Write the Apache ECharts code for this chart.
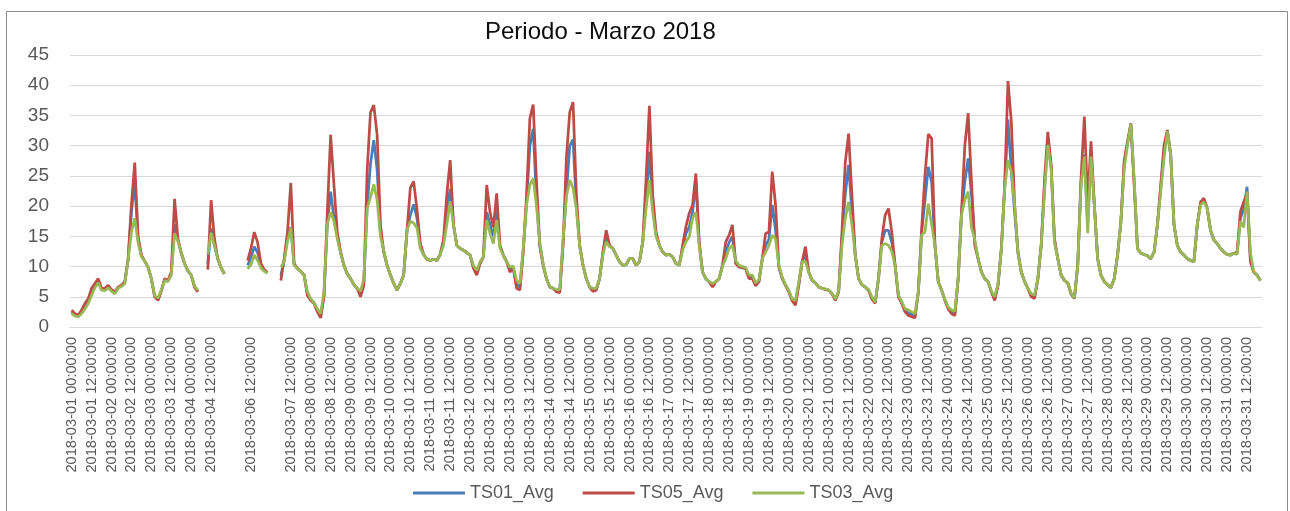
<!DOCTYPE html>
<html>
<head>
<meta charset="utf-8">
<script src="https://cdn.jsdelivr.net/npm/echarts@6/dist/echarts.min.js"></script>
<style>
html,body{margin:0;padding:0;background:#fff;}
#chart{width:1290px;height:511px;}
</style>
</head>
<body>
<div id="chart"></div>
<script>
// Tick labels: one every 12 category slots of 2 hours ('' = blank label in the source)
const tickLabels = [
  '2018-03-01 00:00:00','2018-03-01 12:00:00','2018-03-02 00:00:00','2018-03-02 12:00:00',
  '2018-03-03 00:00:00','2018-03-03 12:00:00','2018-03-04 00:00:00','2018-03-04 12:00:00',
  '','2018-03-06 12:00:00','','2018-03-07 12:00:00',
  '2018-03-08 00:00:00','2018-03-08 12:00:00','2018-03-09 00:00:00','2018-03-09 12:00:00',
  '2018-03-10 00:00:00','2018-03-10 12:00:00','2018-03-11 00:00:00','2018-03-11 12:00:00',
  '2018-03-12 00:00:00','2018-03-12 12:00:00','2018-03-13 00:00:00','2018-03-13 12:00:00',
  '2018-03-14 00:00:00','2018-03-14 12:00:00','2018-03-15 00:00:00','2018-03-15 12:00:00',
  '2018-03-16 00:00:00','2018-03-16 12:00:00','2018-03-17 00:00:00','2018-03-17 12:00:00',
  '2018-03-18 00:00:00','2018-03-18 12:00:00','2018-03-19 00:00:00','2018-03-19 12:00:00',
  '2018-03-20 00:00:00','2018-03-20 12:00:00','2018-03-21 00:00:00','2018-03-21 12:00:00',
  '2018-03-22 00:00:00','2018-03-22 12:00:00','2018-03-23 00:00:00','2018-03-23 12:00:00',
  '2018-03-24 00:00:00','2018-03-24 12:00:00','2018-03-25 00:00:00','2018-03-25 12:00:00',
  '2018-03-26 00:00:00','2018-03-26 12:00:00','2018-03-27 00:00:00','2018-03-27 12:00:00',
  '2018-03-28 00:00:00','2018-03-28 12:00:00','2018-03-29 00:00:00','2018-03-29 12:00:00',
  '2018-03-30 00:00:00','2018-03-30 12:00:00','2018-03-31 00:00:00','2018-03-31 12:00:00'
];
const slotSize = 6; // categories (2-hour steps) per labelled slot

const seriesNames = ['TS01_Avg','TS05_Avg','TS03_Avg'];

const TS01 = [
2.5,2.0,1.8,2.5,3.4,4.3,5.8,6.9,7.7,6.2,6.2,6.7,
6.0,5.6,6.5,6.8,7.3,11.1,19.0,24.1,14.5,11.8,10.9,9.9,
8.0,5.1,4.6,6.0,7.8,7.6,8.8,17.0,14.3,12.3,10.5,9.3,
8.6,6.7,6.0,null,null,10.5,16.3,13.5,11.3,9.8,8.8,null,
null,null,null,null,null,10.2,11.5,13.3,12.3,10.2,9.3,9.0,
null,null,null,8.5,11.0,15.0,16.5,10.3,9.7,9.2,8.6,5.5,
4.5,4.0,2.8,1.9,5.3,17.0,22.4,18.0,15.0,12.3,10.2,8.8,
8.0,7.0,6.4,5.5,7.5,20.0,27.0,30.9,26.0,15.5,12.5,10.2,
8.6,7.2,6.1,7.2,8.6,16.0,18.5,20.3,18.0,13.5,12.0,11.2,
11.0,11.2,11.0,12.0,14.0,19.0,22.9,16.9,13.5,13.0,12.7,12.3,
11.9,10.0,9.0,10.6,11.6,19.0,17.0,15.0,19.0,13.3,11.9,10.8,
9.5,9.9,7.0,6.6,12.7,20.4,30.0,32.8,21.0,13.5,10.3,8.0,
6.6,6.4,6.0,6.0,14.0,22.0,30.0,31.0,20.0,13.5,10.2,8.0,
6.6,6.1,6.2,8.0,12.2,15.0,13.4,13.0,11.9,10.8,10.2,10.3,
11.3,11.3,10.2,10.8,14.1,21.0,29.0,20.0,15.3,13.5,12.4,11.9,
12.0,11.6,10.5,10.2,13.0,15.5,16.5,19.0,24.0,13.8,9.1,8.0,
7.5,6.9,7.5,8.0,10.1,12.5,14.0,15.0,10.7,10.0,9.9,9.7,
8.3,8.3,7.0,7.6,11.3,13.5,14.5,20.2,16.0,10.0,8.1,6.9,
5.9,4.5,4.0,7.2,10.8,12.0,9.1,7.7,7.3,6.6,6.4,6.2,
6.1,5.5,4.5,5.9,14.5,22.0,26.8,19.0,11.9,8.0,7.0,6.6,
6.1,4.8,4.0,8.0,14.0,16.0,16.0,14.0,10.2,5.1,4.0,2.7,
2.3,2.1,1.9,5.8,15.7,21.0,26.5,24.0,13.5,7.5,6.1,4.5,
3.1,2.5,2.2,8.0,18.8,24.0,27.9,22.0,14.0,11.3,9.1,8.0,
7.5,5.8,4.7,7.0,12.9,23.0,34.3,25.7,19.0,12.3,9.1,7.5,
6.4,5.2,5.0,8.0,13.5,23.0,31.0,26.5,14.3,11.3,8.6,7.7,
7.3,5.5,4.7,10.2,24.0,28.5,17.0,29.0,20.2,11.3,8.6,7.5,
7.0,6.5,8.0,11.9,17.4,27.0,30.4,33.6,24.0,13.0,12.2,12.0,
11.8,11.3,12.4,16.9,23.0,29.0,32.5,28.5,16.9,13.5,12.4,11.9,
11.3,11.0,10.8,16.9,20.5,21.0,19.6,16.0,14.4,13.8,13.0,12.4,
12.0,11.9,12.2,12.2,18.0,19.5,23.2,11.5,9.1,8.6,7.7
];

const TS05 = [
2.8,2.2,2.0,2.8,3.9,4.7,6.4,7.2,8.0,6.4,6.4,6.9,
6.2,5.8,6.6,6.9,7.5,11.3,20.2,27.2,15.0,11.9,10.9,9.9,
8.0,5.0,4.4,5.9,8.0,7.7,9.1,21.2,14.6,12.2,10.5,9.3,
8.6,6.6,5.8,null,null,9.5,21.0,14.6,11.3,9.8,8.8,null,
null,null,null,null,null,11.0,13.0,15.7,14.0,10.5,9.5,9.0,
null,null,null,7.7,11.3,15.7,23.8,10.5,9.7,9.2,8.6,5.2,
4.4,3.9,2.5,1.5,5.0,19.0,31.8,23.5,15.7,12.4,10.2,8.8,
8.0,7.0,6.4,5.0,6.9,26.0,35.5,36.7,31.8,16.9,12.4,10.2,
8.6,7.2,6.1,7.2,8.6,16.0,23.0,24.1,19.5,13.8,12.0,11.2,
11.0,11.2,11.0,12.0,14.5,22.0,27.6,16.9,13.5,13.0,12.7,12.3,
11.9,9.7,8.6,10.5,11.6,23.5,19.0,16.5,22.1,13.5,11.9,10.8,
9.1,9.7,6.4,6.1,12.4,21.8,34.5,36.8,24.0,13.5,10.2,8.0,
6.6,6.4,5.8,5.7,13.5,28.0,35.5,37.2,22.0,13.5,10.2,8.0,
6.6,5.9,6.1,8.0,12.4,16.0,13.5,13.0,11.9,10.8,10.2,10.3,
11.3,11.3,10.2,10.8,14.1,24.6,36.6,21.8,15.7,13.5,12.4,11.9,
12.0,11.6,10.5,10.2,13.5,16.6,18.8,20.2,25.4,14.1,9.1,8.0,
7.5,6.6,7.5,8.0,10.2,14.1,15.2,16.9,10.5,9.9,9.8,9.6,
8.0,8.0,6.8,7.5,11.3,15.5,15.7,25.7,20.2,9.9,8.0,6.9,
5.8,4.3,3.6,6.9,10.8,13.3,9.1,7.7,7.3,6.6,6.4,6.2,
6.1,5.5,4.4,5.8,15.7,27.3,32.0,21.8,11.9,8.0,7.0,6.6,
6.1,4.6,3.9,8.0,14.6,18.5,19.6,15.7,10.2,5.0,3.9,2.5,
1.9,1.7,1.5,5.8,16.3,25.1,31.9,31.2,13.5,7.5,6.1,4.4,
3.0,2.2,1.9,8.0,19.1,30.0,35.4,24.0,13.5,11.3,9.1,8.0,
7.5,5.8,4.4,6.9,13.0,23.5,40.7,34.0,20.2,12.4,9.1,7.5,
6.4,5.0,4.7,8.0,13.5,24.3,32.3,26.8,14.6,11.3,8.6,7.7,
7.3,5.5,4.7,10.2,24.6,34.8,20.7,30.7,20.2,11.3,8.6,7.5,
7.0,6.5,8.0,11.9,17.4,27.6,30.7,33.7,23.5,13.0,12.2,12.0,
11.8,11.3,12.4,16.9,23.5,30.1,32.6,28.5,16.9,13.5,12.4,11.9,
11.3,11.0,10.8,16.9,20.7,21.3,19.6,16.0,14.4,13.8,13.0,12.4,
12.0,11.9,12.2,12.4,19.1,20.7,22.1,10.8,9.1,8.6,7.7
];

const TS03 = [
2.2,1.8,1.7,2.2,3.0,3.9,5.2,6.5,7.3,6.1,6.0,6.5,
5.9,5.5,6.4,6.7,7.2,11.0,15.7,18.0,14.0,11.6,10.9,9.9,
8.0,5.2,4.8,6.1,7.7,7.5,8.6,15.5,14.2,12.4,10.5,9.3,
8.6,6.8,6.1,null,null,12.0,15.6,13.5,11.3,9.8,8.8,null,
null,null,null,null,null,9.6,10.3,11.9,11.0,9.8,9.2,8.9,
null,null,null,9.9,10.8,14.1,16.4,10.2,9.7,9.2,8.6,5.8,
4.7,4.0,3.0,2.2,5.8,17.0,19.0,17.5,14.6,12.2,10.2,8.8,
8.0,7.0,6.4,5.9,8.0,19.6,21.5,23.6,21.0,15.0,12.7,10.2,
8.6,7.2,6.1,7.2,8.6,16.0,17.5,17.2,16.4,13.0,12.0,11.2,
11.0,11.2,11.0,12.0,13.5,17.0,20.8,16.9,13.5,13.0,12.7,12.3,
11.9,10.2,9.4,10.8,11.6,17.7,15.5,13.8,17.7,13.0,11.9,10.8,
9.9,10.1,7.7,7.2,13.0,20.2,23.5,24.6,20.0,14.0,10.5,8.0,
6.6,6.4,6.2,6.2,14.6,21.5,24.3,23.0,19.5,13.5,10.2,8.0,
6.6,6.4,6.4,8.0,12.0,14.1,13.3,13.0,11.9,10.8,10.2,10.3,
11.3,11.3,10.2,10.8,14.1,19.6,24.3,19.0,15.0,13.5,12.4,11.9,
12.0,11.6,10.5,10.2,12.7,14.1,14.9,18.0,19.0,13.5,9.1,8.0,
7.5,7.2,7.5,8.0,10.0,11.3,13.0,13.5,11.0,10.2,10.0,9.8,
8.6,8.6,7.3,7.8,11.3,12.4,13.5,15.2,14.6,10.2,8.2,7.0,
6.0,4.6,4.4,7.5,10.8,10.8,9.1,7.7,7.3,6.6,6.4,6.3,
6.1,5.6,4.6,6.0,13.5,18.0,20.7,16.9,11.9,8.0,7.0,6.6,
6.2,5.0,4.1,8.0,13.5,13.8,13.5,12.5,10.2,5.3,4.2,3.0,
2.8,2.5,2.2,5.8,15.2,15.7,20.4,16.9,13.5,7.5,6.1,4.6,
3.3,2.8,2.6,8.0,18.5,21.0,22.4,16.5,14.5,11.3,9.1,8.0,
7.5,5.9,5.0,7.2,12.8,22.9,27.6,25.7,20.2,12.2,9.1,7.5,
6.4,5.5,5.3,8.0,13.5,22.4,30.1,26.2,14.0,11.3,8.6,7.7,
7.3,5.6,4.8,10.2,23.5,28.2,15.5,28.2,20.2,11.3,8.6,7.5,
7.0,6.5,8.0,11.9,17.4,26.2,30.1,33.6,24.5,13.0,12.2,12.0,
11.8,11.3,12.4,16.9,22.4,27.9,32.4,28.5,16.9,13.5,12.4,11.9,
11.3,11.0,10.8,16.9,20.2,20.7,19.6,16.0,14.4,13.8,13.0,12.4,
12.0,11.9,12.2,12.0,17.5,16.5,22.4,12.4,9.1,8.6,7.7
];

const seriesColors = ['#4A7EBB','#BE4B48','#98B954'];

// category axis entries: labelled slot names, other entries get hidden placeholders
const categories = TS05.map((_, i) =>
  (i % slotSize === 0 && tickLabels[i / slotSize]) ? tickLabels[i / slotSize] : '_' + i);

const chart = echarts.init(document.getElementById('chart'), null, {renderer: 'canvas'});
const FONT = '"Liberation Sans", Arial, sans-serif';

chart.setOption({
  animation: false,
  backgroundColor: '#ffffff',
  graphic: [{
    type: 'rect',
    shape: {x: 6.5, y: 11.5, width: 1281, height: 520},
    style: {fill: 'none', stroke: '#8c8c8c', lineWidth: 1},
    silent: true
  }],
  title: {
    text: 'Periodo - Marzo 2018',
    left: 485,
    top: 20,
    padding: 0,
    textStyle: {fontFamily: FONT, fontSize: 24, fontWeight: 'normal', color: '#0d0d0d'}
  },
  legend: {
    data: seriesNames,
    left: 413,
    top: 484,
    padding: 0,
    icon: 'rect',
    itemWidth: 52,
    itemHeight: 3,
    itemGap: 29,
    textStyle: {fontFamily: FONT, fontSize: 18, color: '#595959'}
  },
  grid: {left: 70, right: 28, top: 55, bottom: 184, containLabel: false},
  xAxis: {
    type: 'category',
    boundaryGap: true,
    data: categories,
    axisLine: {show: true, lineStyle: {color: '#d9d9d9', width: 1}},
    axisTick: {show: false},
    splitLine: {show: false},
    axisLabel: {
      interval: slotSize - 1,
      rotate: 90,
      margin: 10,
      fontFamily: FONT,
      fontSize: 14.6,
      color: '#595959',
      formatter: v => (v.charAt(0) === '2' ? v : '')
    }
  },
  yAxis: {
    type: 'value',
    min: 0,
    max: 45,
    interval: 5,
    axisLine: {show: false},
    axisTick: {show: false},
    splitLine: {lineStyle: {color: '#d9d9d9', width: 1}},
    axisLabel: {margin: 21, fontFamily: FONT, fontSize: 19, color: '#595959'}
  },
  series: [TS01, TS05, TS03].map((d, k) => ({
    name: seriesNames[k],
    type: 'line',
    data: d,
    showSymbol: false,
    symbol: 'none',
    connectNulls: false,
    lineStyle: {color: seriesColors[k], width: 2.75},
    itemStyle: {color: seriesColors[k]},
    emphasis: {disabled: true}
  }))
});
</script>
</body>
</html>
